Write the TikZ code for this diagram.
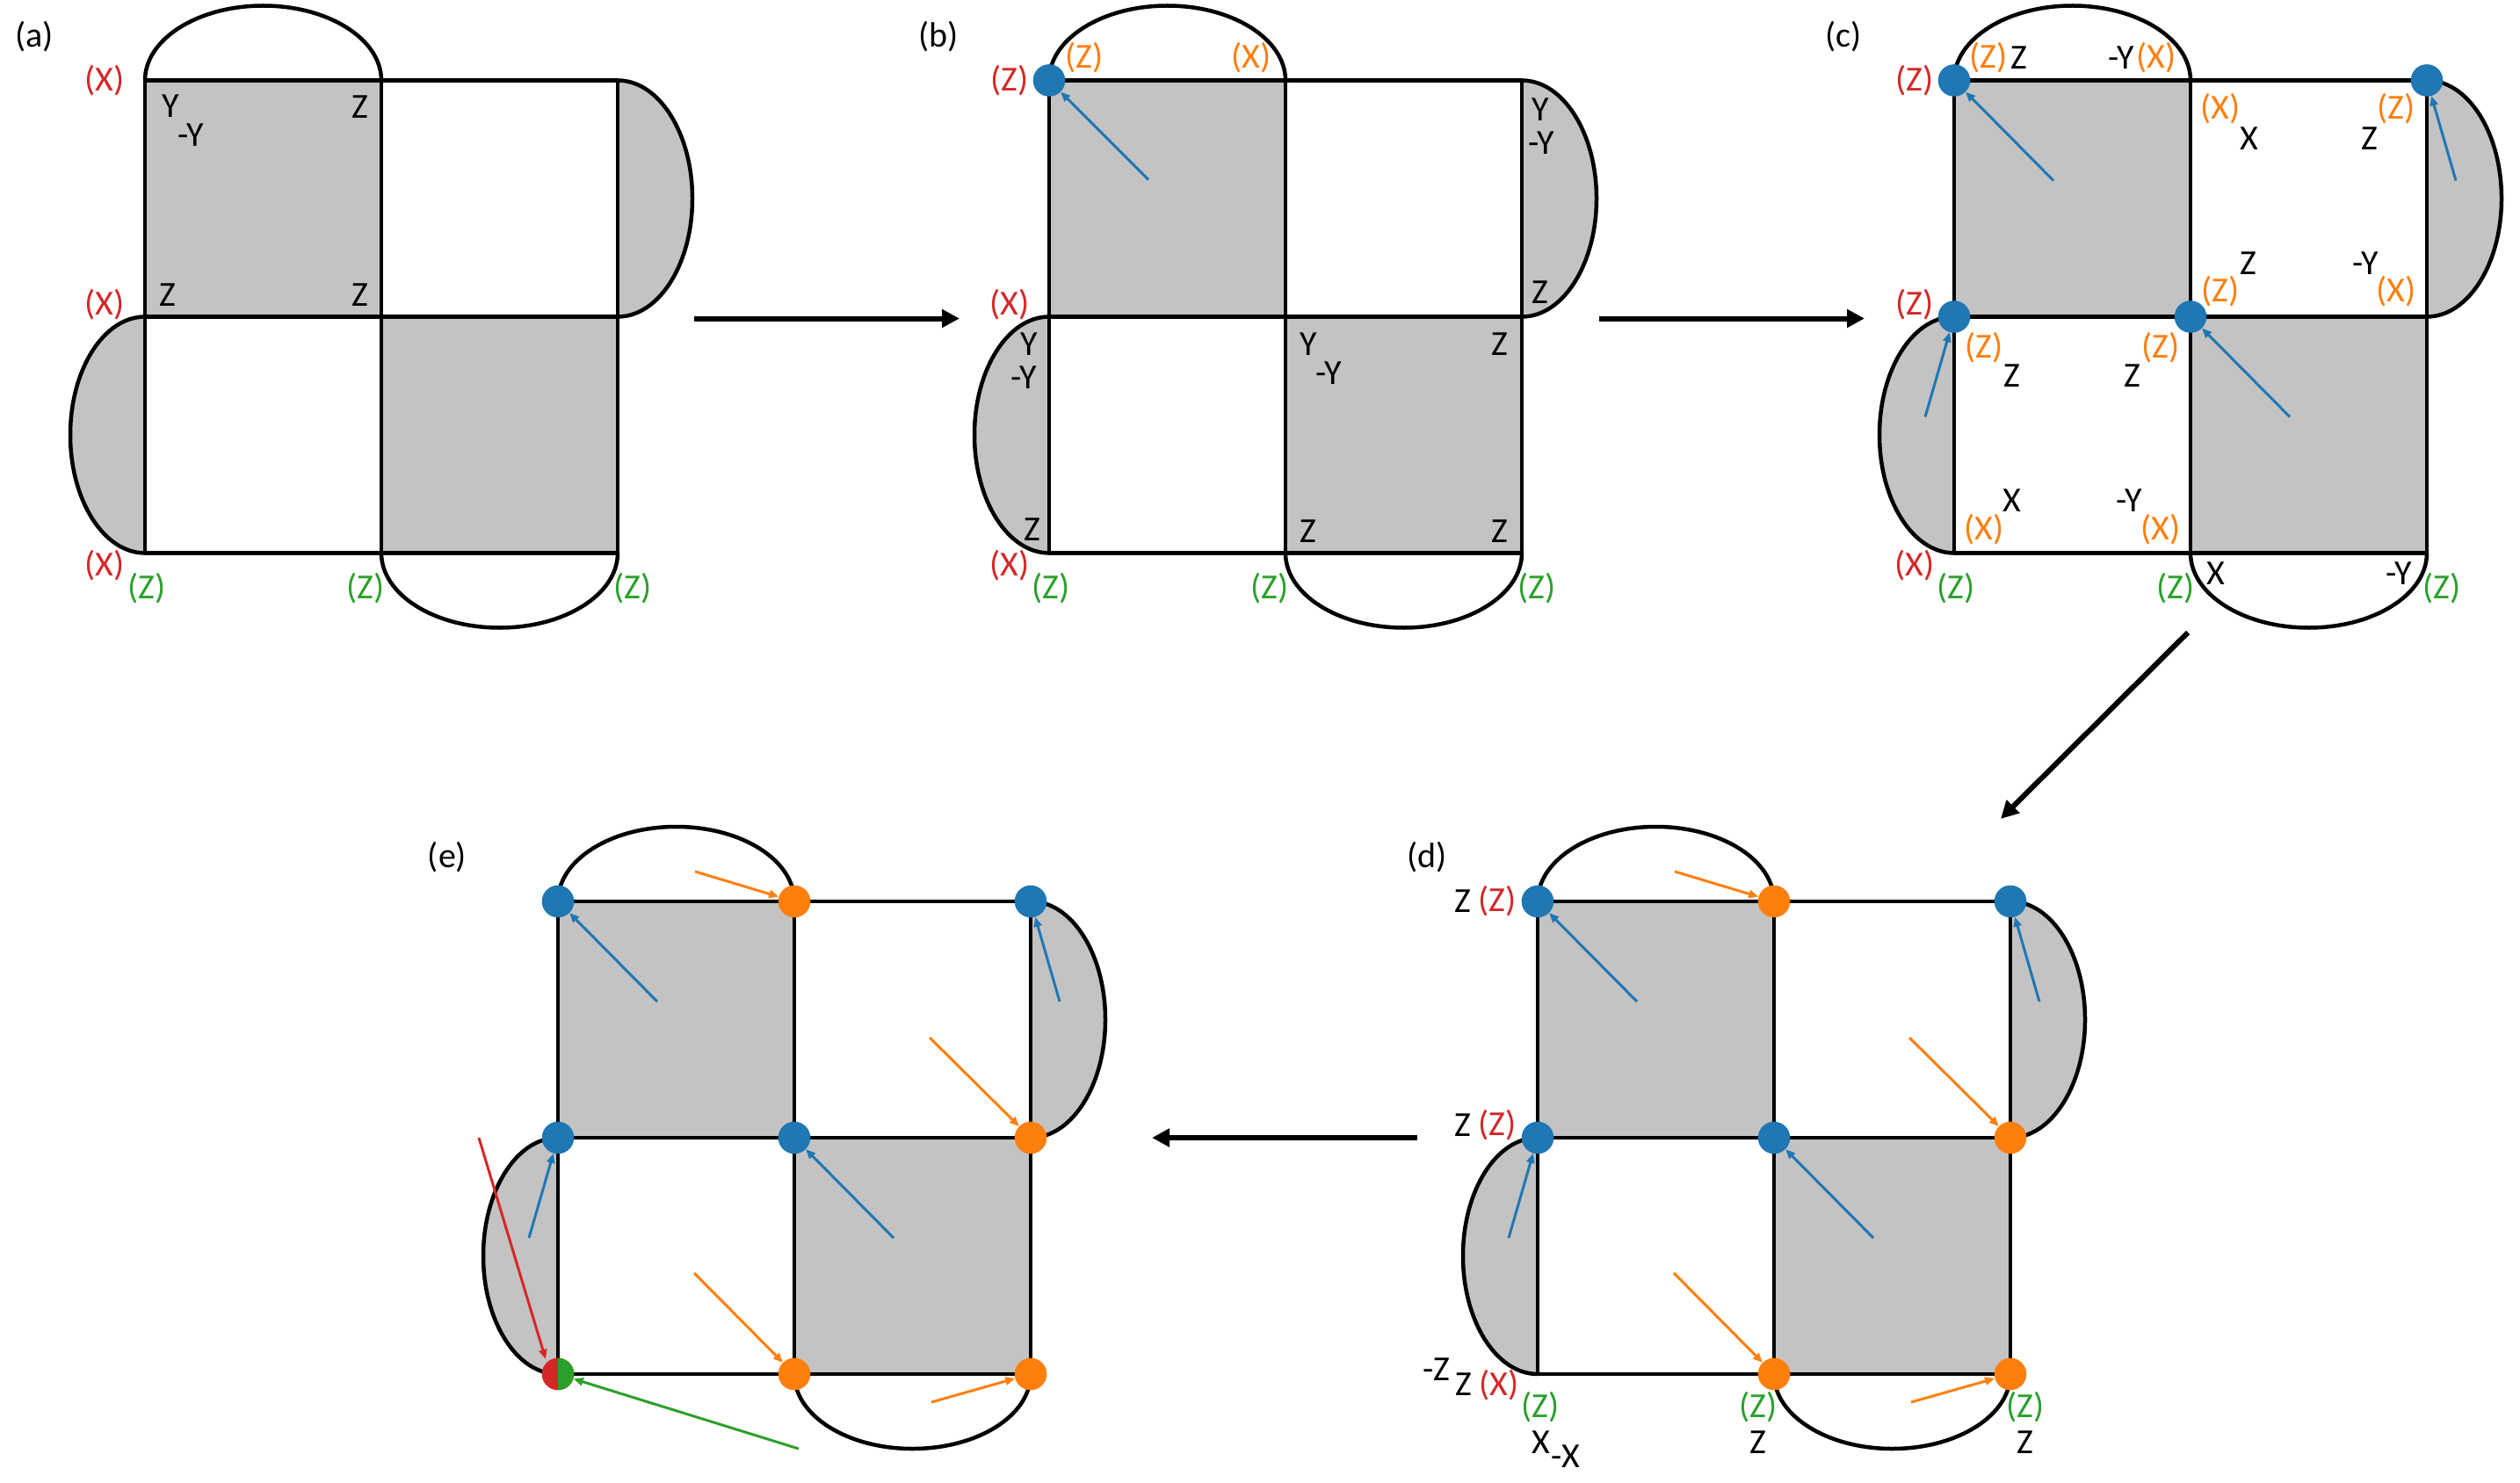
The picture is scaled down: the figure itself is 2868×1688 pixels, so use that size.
\documentclass[tikz,border=0pt]{standalone}
\usepackage{fontspec}
\setmainfont{Carlito}
\usetikzlibrary{arrows.meta}
\definecolor{cellgray}{RGB}{195,195,195}
\definecolor{tblue}{RGB}{31,119,180}
\definecolor{torange}{RGB}{255,127,14}
\definecolor{tred}{RGB}{214,39,40}
\definecolor{tgreen}{RGB}{44,160,44}
\newcommand\basegrid{%
  \fill[cellgray] (0,0) rectangle (269,269);
  \fill[cellgray] (269,269) rectangle (538,538);
  \fill[cellgray] (538,0) .. controls (585,0) and (623,60.2) .. (623,134.5) .. controls (623,208.8) and (585,269) .. (538,269) -- cycle;
  \fill[cellgray] (0,269) .. controls (-47,269) and (-85,329.2) .. (-85,403.5) .. controls (-85,477.8) and (-47,538) .. (0,538) -- cycle;
  \draw[outline] (538,0) .. controls (585,0) and (623,60.2) .. (623,134.5) .. controls (623,208.8) and (585,269) .. (538,269);
  \draw[outline] (0,269) .. controls (-47,269) and (-85,329.2) .. (-85,403.5) .. controls (-85,477.8) and (-47,538) .. (0,538);
  \draw[outline] (0,0) .. controls (0,-47) and (60.2,-85) .. (134.5,-85) .. controls (208.8,-85) and (269,-47) .. (269,0);
  \draw[outline] (269,538) .. controls (269,585) and (329.2,623) .. (403.5,623) .. controls (477.8,623) and (538,585) .. (538,538);
  \draw[outline] (0,0) rectangle (538,538) (269,0) -- (269,538) (0,269) -- (538,269);
}
\newcommand\lbl[4]{\node[lab,text=#1] (#2) at (#3) {#4};}
\begin{document}
\begin{tikzpicture}[x=1pt,y=-1pt,
  outline/.style={line width=4.5pt, black, line join=round},
  lab/.style={font=\fontsize{40}{48}\selectfont, inner sep=0pt, anchor=center},
  dotnode/.style={circle, minimum size=36.6pt, inner sep=0pt, draw=none},
  bdot/.style={dotnode, fill=tblue},
  odot/.style={dotnode, fill=torange},
  carrow/.style={line width=3pt, -{Triangle[length=11pt,width=9pt]}},
  barrow/.style={carrow, tblue},
  oarrow/.style={carrow, torange},
  steparrow/.style={line width=6pt, black, -{Triangle[length=20pt,width=20pt]}}]
\useasboundingbox (0,0) rectangle (2868,1688);
\fill[white] (0,0) rectangle (2868,1688);

% ---------------- (a)
\begin{scope}[shift={(165,91.5)}]
  \basegrid
  \lbl{black}{a-tag}{-126,-50}{(a)}
  \lbl{tred}{a-x1}{-46,0}{(X)}
  \lbl{tred}{a-x2}{-46,255}{(X)}
  \lbl{tred}{a-x3}{-46,552}{(X)}
  \lbl{tgreen}{a-z1}{2,578}{(Z)}
  \lbl{tgreen}{a-z2}{251,578}{(Z)}
  \lbl{tgreen}{a-z3}{555,578}{(Z)}
  \lbl{black}{a-k1}{29,29}{Y}
  \lbl{black}{a-k2}{52,62}{-Y}
  \lbl{black}{a-k3}{245,30}{Z}
  \lbl{black}{a-k4}{26,244}{Z}
  \lbl{black}{a-k5}{245,244}{Z}
\end{scope}

% ---------------- (b)
\begin{scope}[shift={(1194,91.5)}]
  \basegrid
  \lbl{black}{b-tag}{-126,-50}{(b)}
  \lbl{tred}{b-x1}{-45,0}{(Z)}
  \lbl{tred}{b-x2}{-45,255}{(X)}
  \lbl{tred}{b-x3}{-45,552}{(X)}
  \lbl{torange}{b-o1}{40,-26}{(Z)}
  \lbl{torange}{b-o2}{230,-26}{(X)}
  \lbl{tgreen}{b-z1}{2,578}{(Z)}
  \lbl{tgreen}{b-z2}{251,578}{(Z)}
  \lbl{tgreen}{b-z3}{555,578}{(Z)}
  \lbl{black}{b-k1}{559,33}{Y}
  \lbl{black}{b-k2}{560,71}{-Y}
  \lbl{black}{b-k3}{559,241}{Z}
  \lbl{black}{b-k4}{-23,300}{Y}
  \lbl{black}{b-k5}{-29,338}{-Y}
  \lbl{black}{b-k6}{-19,511}{Z}
  \lbl{black}{b-k7}{295,300}{Y}
  \lbl{black}{b-k8}{318,333}{-Y}
  \lbl{black}{b-k9}{513,300}{Z}
  \lbl{black}{b-k10}{295,513}{Z}
  \lbl{black}{b-k11}{513,513}{Z}
  \node[bdot] (b-d1) at (0,0) {};
  \coordinate (b-s1) at (113,113);
  \draw[barrow] (b-s1) -- (b-d1);
\end{scope}

% ---------------- (c)
\begin{scope}[shift={(2224,91.5)}]
  \basegrid
  \lbl{black}{c-tag}{-126,-50}{(c)}
  \lbl{tred}{c-x1}{-45,0}{(Z)}
  \lbl{tred}{c-x2}{-45,255}{(Z)}
  \lbl{tred}{c-x3}{-45,552}{(X)}
  \lbl{tgreen}{c-z1}{2,578}{(Z)}
  \lbl{tgreen}{c-z2}{252,578}{(Z)}
  \lbl{tgreen}{c-z3}{555,578}{(Z)}
  \lbl{torange}{c-o1}{39,-26}{(Z)}
  \lbl{torange}{c-o2}{230,-26}{(X)}
  \lbl{torange}{c-o3}{303,32}{(X)}
  \lbl{torange}{c-o4}{503,32}{(Z)}
  \lbl{torange}{c-o5}{303,240}{(Z)}
  \lbl{torange}{c-o6}{503,240}{(X)}
  \lbl{torange}{c-o7}{34,304}{(Z)}
  \lbl{torange}{c-o8}{235,304}{(Z)}
  \lbl{torange}{c-o9}{34,511}{(X)}
  \lbl{torange}{c-o10}{235,511}{(X)}
  \lbl{black}{c-k1}{74,-26}{Z}
  \lbl{black}{c-k2}{190,-26}{-Y}
  \lbl{black}{c-k3}{336,66}{X}
  \lbl{black}{c-k4}{473,66}{Z}
  \lbl{black}{c-k5}{335,208}{Z}
  \lbl{black}{c-k6}{468,208}{-Y}
  \lbl{black}{c-k7}{66,336}{Z}
  \lbl{black}{c-k8}{203,336}{Z}
  \lbl{black}{c-k9}{66,478}{X}
  \lbl{black}{c-k10}{199,478}{-Y}
  \lbl{black}{c-k11}{298,561}{X}
  \lbl{black}{c-k12}{506,561}{-Y}
  \node[bdot] (c-d1) at (0,0) {};
  \node[bdot] (c-d2) at (538,0) {};
  \node[bdot] (c-d3) at (0,269) {};
  \node[bdot] (c-d4) at (269,269) {};
  \coordinate (c-s1) at (113,114);
  \coordinate (c-s2) at (571,114);
  \coordinate (c-s3) at (-33,383);
  \coordinate (c-s4) at (382,383);
  \draw[barrow] (c-s1) -- (c-d1);
  \draw[barrow] (c-s2) -- (c-d2);
  \draw[barrow] (c-s3) -- (c-d3);
  \draw[barrow] (c-s4) -- (c-d4);
\end{scope}

% ---------------- (d)
\begin{scope}[shift={(1750,1026)}]
  \basegrid
  \lbl{black}{d-tag}{-126,-50}{(d)}
  \lbl{black}{d-k1}{-85,0}{Z}
  \lbl{tred}{d-x1}{-46,0}{(Z)}
  \lbl{black}{d-k2}{-85,255}{Z}
  \lbl{tred}{d-x2}{-46,255}{(Z)}
  \lbl{black}{d-k3}{-115,533}{-Z}
  \lbl{black}{d-k4}{-84,550}{Z}
  \lbl{tred}{d-x3}{-44,551}{(X)}
  \lbl{tgreen}{d-z1}{3,576}{(Z)}
  \lbl{black}{d-k5}{4,616}{X}
  \lbl{black}{d-k6}{32,632}{-X}
  \lbl{tgreen}{d-z2}{251,576}{(Z)}
  \lbl{black}{d-k7}{251,616}{Z}
  \lbl{tgreen}{d-z3}{555,576}{(Z)}
  \lbl{black}{d-k8}{555,616}{Z}
  \node[bdot] (d-d1) at (0,0) {};
  \node[bdot] (d-d2) at (538,0) {};
  \node[bdot] (d-d3) at (0,269) {};
  \node[bdot] (d-d4) at (269,269) {};
  \node[odot] (d-d5) at (269,0) {};
  \node[odot] (d-d6) at (538,269) {};
  \node[odot] (d-d7) at (269,538) {};
  \node[odot] (d-d8) at (538,538) {};
  \coordinate (d-s1) at (113,114);
  \coordinate (d-s2) at (571,114);
  \coordinate (d-s3) at (-33,383);
  \coordinate (d-s4) at (382,383);
  \coordinate (d-s5) at (156,-34);
  \coordinate (d-s6) at (423,155);
  \coordinate (d-s7) at (155,423);
  \coordinate (d-s8) at (425,570);
  \draw[barrow] (d-s1) -- (d-d1);
  \draw[barrow] (d-s2) -- (d-d2);
  \draw[barrow] (d-s3) -- (d-d3);
  \draw[barrow] (d-s4) -- (d-d4);
  \draw[oarrow] (d-s5) -- (d-d5);
  \draw[oarrow] (d-s6) -- (d-d6);
  \draw[oarrow] (d-s7) -- (d-d7);
  \draw[oarrow] (d-s8) -- (d-d8);
\end{scope}

% ---------------- (e)
\begin{scope}[shift={(635,1026)}]
  \basegrid
  \lbl{black}{e-tag}{-126,-50}{(e)}
  \node[bdot] (e-d1) at (0,0) {};
  \node[bdot] (e-d2) at (538,0) {};
  \node[bdot] (e-d3) at (0,269) {};
  \node[bdot] (e-d4) at (269,269) {};
  \node[odot] (e-d5) at (269,0) {};
  \node[odot] (e-d6) at (538,269) {};
  \node[odot] (e-d7) at (269,538) {};
  \node[odot] (e-d8) at (538,538) {};
  \node[dotnode] (e-d9) at (0,538) {};
  \fill[tred] (e-d9.center) circle (18.3);
  \begin{scope}
    \clip (0,510) rectangle (25,566);
    \fill[tgreen] (e-d9.center) circle (18.3);
  \end{scope}
  \coordinate (e-s1) at (113,114);
  \coordinate (e-s2) at (571,114);
  \coordinate (e-s3) at (-33,383);
  \coordinate (e-s4) at (382,383);
  \coordinate (e-s5) at (156,-34);
  \coordinate (e-s6) at (423,155);
  \coordinate (e-s7) at (155,423);
  \coordinate (e-s8) at (425,570);
  \coordinate (e-s9) at (-90,269);
  \coordinate (e-t9) at (-14,521);
  \coordinate (e-s10) at (274,623);
  \draw[barrow] (e-s1) -- (e-d1);
  \draw[barrow] (e-s2) -- (e-d2);
  \draw[barrow] (e-s3) -- (e-d3);
  \draw[barrow] (e-s4) -- (e-d4);
  \draw[oarrow] (e-s5) -- (e-d5);
  \draw[oarrow] (e-s6) -- (e-d6);
  \draw[oarrow] (e-s7) -- (e-d7);
  \draw[oarrow] (e-s8) -- (e-d8);
  \draw[carrow, tred] (e-s9) -- (e-t9);
  \draw[carrow, tgreen] (e-s10) -- (e-d9);
\end{scope}

% ---------------- step arrows
\coordinate (ab-s) at (790,362.5);
\coordinate (ab-t) at (1092,362.5);
\coordinate (bc-s) at (1820,362.5);
\coordinate (bc-t) at (2122,362.5);
\coordinate (cd-s) at (2490,720);
\coordinate (cd-t) at (2277,932);
\coordinate (de-s) at (1613,1295);
\coordinate (de-t) at (1311,1295);
\draw[steparrow] (ab-s) -- (ab-t);
\draw[steparrow] (bc-s) -- (bc-t);
\draw[steparrow] (cd-s) -- (cd-t);
\draw[steparrow] (de-s) -- (de-t);
\end{tikzpicture}
\end{document}
